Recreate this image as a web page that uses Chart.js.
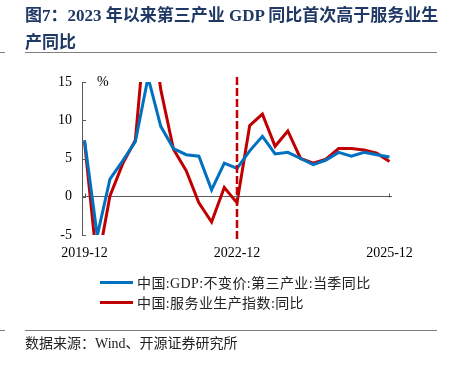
<!DOCTYPE html>
<html>

<head>
  <meta charset="utf-8">
  <title>图7</title>
  <script src="https://cdn.jsdelivr.net/npm/chart.js@4.4.1/dist/chart.umd.min.js"></script>
  <style>
    body { margin: 0; background: #fff; }
    #wrap { position: relative; width: 450px; height: 372px; overflow: hidden; }
    #chart { position: absolute; left: 0; top: 0; }
    .title { position: absolute; left: 25px; top: 2px; font: bold 17px/27px 'Liberation Serif', 'Noto Sans CJK SC', serif; color: #1f3864; white-space: nowrap; }
    .rule { position: absolute; height: 0; border-top: 1.5px solid #7f7f7f; }
    .legend { position: absolute; left: 100px; display: flex; align-items: center; height: 20px; font: 14px 'Liberation Serif', 'Noto Sans CJK SC', serif; letter-spacing: 0.4px; color: #222; white-space: nowrap; }
    .legend i { display: inline-block; width: 33px; height: 3px; margin-right: 4px; }
    .source { position: absolute; left: 25px; top: 335px; font: 14px/18px 'Liberation Serif', 'Noto Sans CJK SC', serif; color: #222; white-space: nowrap; }
  </style>
</head>

<body>
  <div id="wrap">
    <canvas id="chart" width="450" height="372"></canvas>
    <div class="title">图7：2023 年以来第三产业 GDP 同比首次高于服务业生<br>产同比</div>
    <div class="rule" style="left:0;width:5px;top:52px"></div>
    <div class="rule" style="left:25px;width:412px;top:52px"></div>
    <div class="legend" style="top:272px"><i style="background:#0070c0"></i>中国:GDP:不变价:第三产业:当季同比</div>
    <div class="legend" style="top:292px"><i style="background:#c00000"></i>中国:服务业生产指数:同比</div>
    <div class="rule" style="left:0;width:5px;top:330px"></div>
    <div class="rule" style="left:25px;width:412px;top:330px"></div>
    <div class="source">数据来源：Wind、开源证券研究所</div>
  </div>

  <script>
    // quarterly, 2019-12 .. 2025-12
    const quarters = [
      '2019-12', '2020-03', '2020-06', '2020-09', '2020-12',
      '2021-03', '2021-06', '2021-09', '2021-12',
      '2022-03', '2022-06', '2022-09', '2022-12',
      '2023-03', '2023-06', '2023-09', '2023-12',
      '2024-03', '2024-06', '2024-09', '2024-12',
      '2025-03', '2025-06', '2025-09', '2025-12'
    ];
    const gdpTertiary = [7.4, -5.1, 2.3, 4.7, 7.2, 15.6, 9.2, 6.3, 5.5, 5.3, 0.9, 4.4, 3.7,
      6.0, 7.9, 5.6, 5.8, 5.0, 4.2, 4.8, 5.8, 5.3, 5.8, 5.5, 5.2];
    const serviceIndex = [7.2, -9.0, 0.1, 4.3, 7.4, 26.0, 14.0, 6.2, 3.4, -0.8, -3.3, 1.2, -0.8,
      9.3, 10.8, 6.6, 8.6, 5.0, 4.4, 4.9, 6.3, 6.3, 6.1, 5.7, 4.6];
    const tickLabels = ['2019-12', '2022-12', '2025-12'];
    const markQuarter = '2022-12';

    const seriesPoints = vals => vals.map((v, i) => ({ x: i, y: v }));

    const extras = {
      id: 'extras',
      afterDatasetsDraw(chart) {
        const { ctx, chartArea: a, scales: { x, y } } = chart;
        ctx.save();
        ctx.strokeStyle = '#595959';
        ctx.lineWidth = 1;
        // ticks point inward
        y.ticks.forEach(t => {
          const py = Math.round(y.getPixelForValue(t.value)) + 0.5;
          ctx.beginPath(); ctx.moveTo(a.left, py); ctx.lineTo(a.left + 4, py); ctx.stroke();
        });
        const zy = Math.round(y.getPixelForValue(0)) + 0.5;
        x.ticks.forEach(t => {
          const px = Math.round(x.getPixelForValue(t.value)) + 0.5;
          ctx.beginPath(); ctx.moveTo(px, zy); ctx.lineTo(px, zy - 4); ctx.stroke();
        });
        // 2022-12 marker
        const mx = x.getPixelForValue(quarters.indexOf(markQuarter));
        ctx.strokeStyle = '#c00000';
        ctx.lineWidth = 2.5;
        ctx.setLineDash([8, 3]);
        ctx.beginPath(); ctx.moveTo(mx, a.top - 5); ctx.lineTo(mx, a.bottom + 7); ctx.stroke();
        ctx.setLineDash([]);
        ctx.fillStyle = '#000';
        ctx.font = '14px "Liberation Serif"';
        ctx.textBaseline = 'middle';
        ctx.fillText('%', a.left + 15, a.top);
        ctx.restore();
      }
    };

    new Chart(document.getElementById('chart'), {
      type: 'line',
      data: {
        datasets: [{
          label: '中国:GDP:不变价:第三产业:当季同比',
          data: seriesPoints(gdpTertiary),
          borderColor: '#0070c0',
          borderWidth: 3,
          pointRadius: 0,
          tension: 0
        }, {
          label: '中国:服务业生产指数:同比',
          data: seriesPoints(serviceIndex),
          borderColor: '#c00000',
          borderWidth: 3,
          pointRadius: 0,
          tension: 0
        }]
      },
      options: {
        responsive: false,
        animation: false,
        layout: { padding: { left: 0, right: 58, top: 82, bottom: 0 } },
        plugins: { legend: { display: false }, tooltip: { enabled: false } },
        scales: {
          x: {
            type: 'linear',
            min: -0.2,
            max: 24.2,
            afterBuildTicks: s => { s.ticks = tickLabels.map(l => ({ value: quarters.indexOf(l) })); },
            afterFit: s => { s.height = 137; },
            ticks: {
              callback: v => quarters[v],
              font: { family: 'Liberation Serif', size: 14 },
              color: '#000',
              padding: 10,
              maxRotation: 0
            },
            grid: { display: false, drawTicks: false },
            border: { display: false }
          },
          y: {
            min: -5,
            max: 15,
            afterFit: s => { s.width = 82; },
            ticks: {
              stepSize: 5,
              font: { family: 'Liberation Serif', size: 14 },
              color: '#000',
              padding: 10
            },
            grid: {
              drawTicks: false,
              color: c => (c.tick && c.tick.value === 0 ? '#595959' : 'rgba(0,0,0,0)')
            },
            border: { display: true, color: '#595959' }
          }
        }
      },
      plugins: [extras]
    });
  </script>
</body>

</html>
